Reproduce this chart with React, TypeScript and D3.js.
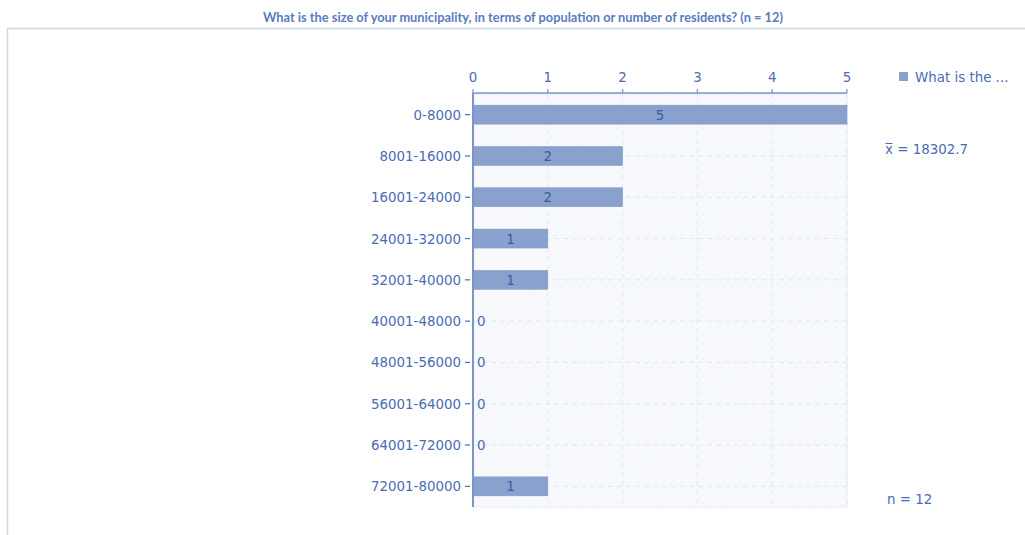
import React from "react";
import * as d3 from "d3";

const categories = ["0-8000","8001-16000","16001-24000","24001-32000","32001-40000","40001-48000","48001-56000","56001-64000","64001-72000","72001-80000"];
const counts = [5,2,2,1,1,0,0,0,0,1];
const xTicks = [0,1,2,3,4,5];
const title = "What is the size of your municipality, in terms of population or number of residents? (n = 12)";
const legendLabel = "What is the ...";
const meanLabel = "x\u0305 = 18302.7";
const nLabel = "n = 12";

export default function App() {
  const W = 1025, H = 535;
  const left = 473, right = 847, top = 94, bottom = 507;
  const x = d3.scaleLinear().domain([0, 5]).range([left, right]);
  const y = d3.scaleBand().domain(categories).range([top, bottom]).paddingInner(0.54).paddingOuter(0.27);
  const font = "'DejaVu Sans', Verdana, sans-serif";
  const fs = 13.4;
  const txt = "#4a6cb3";
  return (
    <svg width={W} height={H} style={{ position: "absolute", left: 0, top: 0 }}>
      <defs>
        <pattern id="hatch" width="6" height="6" patternUnits="userSpaceOnUse" patternTransform="rotate(45)">
          <rect width="6" height="6" fill="#f7f9fc" />
          <line x1="0" y1="0" x2="0" y2="6" stroke="#eef1f7" strokeWidth="1" />
        </pattern>
      </defs>
      <rect width={W} height={H} fill="#fff" />
      <text x={523} y={22} textAnchor="middle" fontFamily="Lato, 'Open Sans', sans-serif" fontWeight="bold" fontSize={12.8} fill="#5a7bc0">{title}</text>
      <line x1={7} y1={28.5} x2={W} y2={28.5} stroke="#cdd7ea" strokeWidth={1.5} />
      <line x1={7.5} y1={28} x2={7.5} y2={H} stroke="#cdd7ea" strokeWidth={1.5} />
      <rect x={left} y={top} width={right - left} height={bottom - top} fill="url(#hatch)" stroke="#e6ebf4" />
      {xTicks.slice(1).map(t => (
        <line key={"gx" + t} x1={x(t)} x2={x(t)} y1={top} y2={bottom} stroke="#e3e8f2" strokeDasharray="5,4" />
      ))}
      {categories.map(c => (
        <line key={"gy" + c} x1={left} x2={right} y1={y(c)! + y.bandwidth() / 2} y2={y(c)! + y.bandwidth() / 2} stroke="#e3e8f2" strokeDasharray="5,4" />
      ))}
      {categories.map((c, i) => (
        <g key={"b" + c}>
          {counts[i] > 0 && (
            <rect x={x(0)} y={y(c)!} width={x(counts[i]) - x(0)} height={y.bandwidth()} fill="#8aa1cd" stroke="#7f97c6" strokeWidth={0.5} />
          )}
          <text
            x={counts[i] > 0 ? (x(0) + x(counts[i])) / 2 : x(0) + 4}
            y={y(c)! + y.bandwidth() / 2 + 5}
            textAnchor={counts[i] > 0 ? "middle" : "start"}
            fontFamily={font} fontSize={fs} fill={counts[i] > 0 ? "#3c5a9e" : txt}
          >{counts[i]}</text>
          <line x1={left - 8} x2={left - 3} y1={y(c)! + y.bandwidth() / 2} y2={y(c)! + y.bandwidth() / 2} stroke={txt} strokeWidth={1.2} />
          <text x={left - 12} y={y(c)! + y.bandwidth() / 2 + 5} textAnchor="end" fontFamily={font} fontSize={fs} fill={txt}>{c}</text>
        </g>
      ))}
      <line x1={left} x2={left} y1={top - 1} y2={bottom} stroke="#7b95c9" strokeWidth={2} />
      <line x1={left} x2={right} y1={top - 1} y2={top - 1} stroke="#7b95c9" strokeWidth={1.5} />
      {xTicks.map(t => (
        <g key={"xt" + t}>
          <line x1={x(t)} x2={x(t)} y1={top - 5} y2={top - 1} stroke="#7b95c9" strokeWidth={1.2} />
          <text x={x(t)} y={top - 12} textAnchor="middle" fontFamily={font} fontSize={fs} fill={txt}>{t}</text>
        </g>
      ))}
      <rect x={899} y={72} width={9} height={9} fill="#8aa1cd" />
      <text x={915} y={82} fontFamily={font} fontSize={fs} fill={txt}>{legendLabel}</text>
      <text x={885} y={154} fontFamily={font} fontSize={fs} fill={txt}>{meanLabel}</text>
      <text x={887} y={504} fontFamily={font} fontSize={fs} fill={txt}>{nLabel}</text>
    </svg>
  );
}
